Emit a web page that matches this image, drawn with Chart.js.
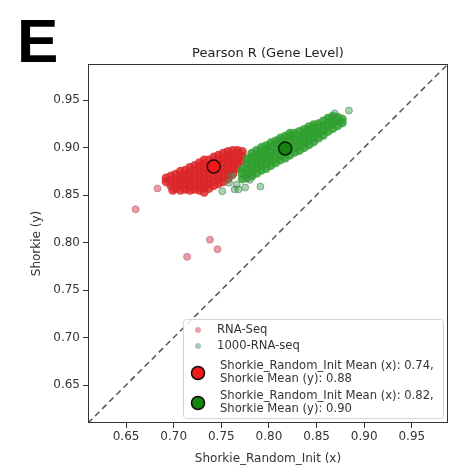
<!DOCTYPE html>
<html>
<head>
<meta charset="utf-8">
<script src="https://cdn.jsdelivr.net/npm/chart.js@4.4.1/dist/chart.umd.min.js"></script>
<style>
    body { margin: 0; background: #fff; }
    #wrap { width: 458px; height: 469px; position: relative; }
</style>
</head>
<body>
<div id="wrap"><canvas id="pearsonChart"></canvas></div>
<script>
const panelLetter = 'E';
const chartTitle = 'Pearson R (Gene Level)';
const xTitle = 'Shorkie_Random_Init (x)';
const yTitle = 'Shorkie (y)';
const seriesNames = ['RNA-Seq', '1000-RNA-seq'];
const axisRange = [0.61, 0.988];
const xTicks = [0.65, 0.70, 0.75, 0.80, 0.85, 0.90, 0.95];
const yTicks = [0.65, 0.70, 0.75, 0.80, 0.85, 0.90, 0.95];

// per-gene correlations (x = random init, y = shorkie)
const rnaSeqPoints = [
    [0.692, 0.864], [0.692, 0.868],
    [0.697, 0.860], [0.697, 0.865], [0.697, 0.870], [0.699, 0.855],
    [0.702, 0.857], [0.702, 0.862], [0.702, 0.867], [0.702, 0.872],
    [0.707, 0.855], [0.707, 0.860], [0.707, 0.865], [0.707, 0.870], [0.707, 0.875],
    [0.712, 0.856], [0.712, 0.861], [0.712, 0.866], [0.712, 0.871], [0.712, 0.876],
    [0.717, 0.855], [0.717, 0.860], [0.717, 0.865], [0.717, 0.870], [0.717, 0.875], [0.717, 0.879],
    [0.722, 0.856], [0.722, 0.861], [0.722, 0.866], [0.722, 0.871], [0.722, 0.876], [0.722, 0.881],
    [0.727, 0.855], [0.727, 0.860], [0.727, 0.865], [0.727, 0.870], [0.727, 0.875], [0.727, 0.880], [0.727, 0.884],
    [0.732, 0.853], [0.732, 0.858], [0.732, 0.863], [0.732, 0.868], [0.732, 0.873], [0.732, 0.878], [0.732, 0.883], [0.732, 0.887],
    [0.737, 0.857], [0.737, 0.862], [0.737, 0.867], [0.737, 0.872], [0.737, 0.877], [0.737, 0.882], [0.737, 0.887],
    [0.742, 0.860], [0.742, 0.865], [0.742, 0.870], [0.742, 0.875], [0.742, 0.880], [0.742, 0.885], [0.742, 0.890],
    [0.747, 0.862], [0.747, 0.867], [0.747, 0.872], [0.747, 0.877], [0.747, 0.882], [0.747, 0.887], [0.747, 0.892],
    [0.752, 0.864], [0.752, 0.869], [0.752, 0.874], [0.752, 0.879], [0.752, 0.884], [0.752, 0.889], [0.752, 0.894],
    [0.757, 0.867], [0.757, 0.872], [0.757, 0.877], [0.757, 0.882], [0.757, 0.887], [0.757, 0.892], [0.757, 0.896],
    [0.762, 0.872], [0.762, 0.877], [0.762, 0.882], [0.762, 0.887], [0.762, 0.892], [0.762, 0.897],
    [0.767, 0.878], [0.767, 0.883], [0.767, 0.888], [0.767, 0.893], [0.767, 0.897],
    [0.772, 0.886], [0.772, 0.891], [0.772, 0.896]
];
const rnaSeqStray = [[0.683, 0.857], [0.660, 0.835], [0.738, 0.803], [0.746, 0.793], [0.714, 0.785]];

const rna1000Points = [
    [0.772, 0.867], [0.772, 0.872], [0.772, 0.877],
    [0.777, 0.868], [0.777, 0.873], [0.777, 0.878], [0.777, 0.883], [0.777, 0.888],
    [0.782, 0.870], [0.782, 0.875], [0.782, 0.880], [0.782, 0.885], [0.782, 0.890], [0.782, 0.894],
    [0.787, 0.873], [0.787, 0.878], [0.787, 0.883], [0.787, 0.888], [0.787, 0.893], [0.787, 0.897],
    [0.792, 0.876], [0.792, 0.881], [0.792, 0.886], [0.792, 0.891], [0.792, 0.896], [0.792, 0.900],
    [0.797, 0.878], [0.797, 0.883], [0.797, 0.888], [0.797, 0.893], [0.797, 0.898], [0.797, 0.902],
    [0.802, 0.881], [0.802, 0.886], [0.802, 0.891], [0.802, 0.896], [0.802, 0.901], [0.802, 0.905],
    [0.807, 0.884], [0.807, 0.889], [0.807, 0.894], [0.807, 0.899], [0.807, 0.904], [0.807, 0.907],
    [0.812, 0.887], [0.812, 0.892], [0.812, 0.897], [0.812, 0.902], [0.812, 0.907], [0.812, 0.910],
    [0.817, 0.889], [0.817, 0.894], [0.817, 0.899], [0.817, 0.904], [0.817, 0.909], [0.817, 0.912],
    [0.822, 0.892], [0.822, 0.897], [0.822, 0.902], [0.822, 0.907], [0.822, 0.912], [0.822, 0.915],
    [0.827, 0.895], [0.827, 0.900], [0.827, 0.905], [0.827, 0.910], [0.827, 0.915],
    [0.832, 0.897], [0.832, 0.902], [0.832, 0.907], [0.832, 0.912], [0.832, 0.917],
    [0.837, 0.900], [0.837, 0.905], [0.837, 0.910], [0.837, 0.915], [0.837, 0.919],
    [0.842, 0.903], [0.842, 0.908], [0.842, 0.913], [0.842, 0.918], [0.842, 0.922],
    [0.847, 0.906], [0.847, 0.911], [0.847, 0.916], [0.847, 0.921], [0.847, 0.924],
    [0.852, 0.910], [0.852, 0.915], [0.852, 0.920], [0.852, 0.925],
    [0.857, 0.913], [0.857, 0.918], [0.857, 0.923], [0.857, 0.928],
    [0.862, 0.917], [0.862, 0.922], [0.862, 0.927], [0.862, 0.931],
    [0.867, 0.920], [0.867, 0.925], [0.867, 0.930], [0.867, 0.933],
    [0.872, 0.923], [0.872, 0.928], [0.872, 0.932],
    [0.877, 0.926], [0.877, 0.930]
];
const rna1000Stray = [
    [0.884, 0.939], [0.869, 0.936], [0.751, 0.854], [0.758, 0.863], [0.764, 0.856],
    [0.768, 0.856], [0.775, 0.858], [0.780, 0.866], [0.761, 0.870], [0.791, 0.859], [0.766, 0.861]
];
const meanX = [0.742, 0.817];
const meanY = [0.880, 0.899];

const redFill = 'rgba(220, 38, 40, 0.85)';
const greenFill = 'rgba(48, 160, 48, 0.85)';
const meanFill = ['#f01a1a', '#13860f'];
const font = 'DejaVu Sans';

function toXY(list) {
    return list.map(p => ({ x: p[0], y: p[1] }));
}

// box, title, panel letter and the matplotlib style legend
const extrasPlugin = {
    id: 'extras',
    afterDatasetsDraw(chart) {
        const ctx = chart.ctx;
        const ca = chart.chartArea;
        ctx.save();
        ctx.strokeStyle = '#333';
        ctx.lineWidth = 1;
        ctx.strokeRect(ca.left + 0.5, ca.top + 0.5, ca.width - 1, ca.height - 1);
        ctx.restore();
    },
    afterDraw(chart) {
        const ctx = chart.ctx;
        const ca = chart.chartArea;
        ctx.save();
        ctx.fillStyle = '#000';
        ctx.font = 'bold 62px "Liberation Sans"';
        ctx.textBaseline = 'alphabetic';
        ctx.textAlign = 'left';
        ctx.fillText(panelLetter, 17, 62);

        ctx.fillStyle = '#222';
        ctx.font = '13px "' + font + '"';
        ctx.textAlign = 'center';
        ctx.fillText(chartTitle, (ca.left + ca.right) / 2, ca.top - 7);

        // legend
        const w = 260, h = 99;
        const x0 = ca.right - 5 - w, y0 = ca.bottom - 5 - h;
        ctx.fillStyle = 'rgba(255,255,255,0.85)';
        ctx.strokeStyle = '#d4d4d4';
        ctx.lineWidth = 1;
        ctx.beginPath();
        ctx.roundRect(x0 + 0.5, y0 + 0.5, w, h, 3);
        ctx.fill();
        ctx.stroke();

        const mx = x0 + 15, tx = x0 + 37;
        ctx.font = '11.6px "' + font + '"';
        ctx.textAlign = 'left';
        ctx.textBaseline = 'middle';
        const small = ['#e9a2ac', '#a9c7b7'];
        seriesNames.forEach((name, i) => {
            const yy = y0 + 11 + i * 16;
            ctx.fillStyle = small[i];
            ctx.beginPath();
            ctx.arc(mx, yy, 3, 0, Math.PI * 2);
            ctx.fill();
            ctx.fillStyle = '#333';
            ctx.fillText(name, tx - 3, yy);
        });
        meanX.forEach((mxv, i) => {
            const yy = y0 + 54 + i * 30;
            ctx.fillStyle = meanFill[i];
            ctx.strokeStyle = '#1a0a0a';
            ctx.lineWidth = 1.5;
            ctx.beginPath();
            ctx.arc(mx, yy, 6.5, 0, Math.PI * 2);
            ctx.fill();
            ctx.stroke();
            ctx.fillStyle = '#333';
            ctx.fillText('Shorkie_Random_Init Mean (x): ' + mxv.toFixed(2) + ',', tx, yy - 7);
            ctx.fillText('Shorkie Mean (y): ' + meanY[i].toFixed(2), tx, yy + 6);
        });
        ctx.restore();
    }
};

const tickFont = { family: font, size: 12 };

new Chart(document.getElementById('pearsonChart'), {
    type: 'scatter',
    data: {
        datasets: [
            {
                label: 'mean RNA-Seq',
                data: [{ x: meanX[0], y: meanY[0] }],
                backgroundColor: meanFill[0],
                borderColor: '#2a0808',
                borderWidth: 1.5,
                pointRadius: 6.5,
                order: 0
            },
            {
                label: 'mean 1000-RNA-seq',
                data: [{ x: meanX[1], y: meanY[1] }],
                backgroundColor: meanFill[1],
                borderColor: '#061a06',
                borderWidth: 1.5,
                pointRadius: 6.5,
                order: 0
            },
            {
                label: seriesNames[1] + ' stray',
                data: toXY(rna1000Stray),
                backgroundColor: 'rgba(60, 160, 70, 0.45)',
                borderColor: 'rgba(70, 120, 95, 0.55)',
                borderWidth: 1,
                pointRadius: 3.5,
                order: 1
            },
            {
                label: seriesNames[1],
                data: toXY(rna1000Points),
                backgroundColor: greenFill,
                borderWidth: 0,
                pointRadius: 4.5,
                order: 1
            },
            {
                label: seriesNames[0] + ' stray',
                data: toXY(rnaSeqStray),
                backgroundColor: 'rgba(214, 60, 75, 0.5)',
                borderColor: 'rgba(170, 80, 110, 0.5)',
                borderWidth: 1,
                pointRadius: 3.5,
                order: 2
            },
            {
                label: seriesNames[0],
                data: toXY(rnaSeqPoints),
                backgroundColor: redFill,
                borderWidth: 0,
                pointRadius: 4.5,
                order: 2
            },
            {
                type: 'line',
                label: 'y = x',
                data: [{ x: axisRange[0], y: axisRange[0] }, { x: axisRange[1], y: axisRange[1] }],
                borderColor: '#555',
                borderWidth: 1.5,
                borderDash: [6, 4],
                pointRadius: 0,
                order: 3
            }
        ]
    },
    options: {
        responsive: true,
        maintainAspectRatio: false,
        animation: false,
        layout: { padding: { left: 20, right: 10, top: 64, bottom: 0 } },
        plugins: {
            legend: { display: false },
            tooltip: { enabled: false }
        },
        scales: {
            x: {
                type: 'linear',
                min: axisRange[0],
                max: axisRange[1],
                afterBuildTicks: s => { s.ticks = xTicks.map(v => ({ value: v })); },
                afterFit: s => { s.height = 46; },
                ticks: { callback: v => v.toFixed(2), font: tickFont, color: '#333', padding: 2, maxRotation: 0, autoSkip: false },
                grid: { display: true, drawOnChartArea: false, drawTicks: true, tickLength: 5, color: '#333' },
                border: { display: false },
                title: { display: true, text: xTitle, font: tickFont, color: '#333', padding: { top: 0, bottom: 3 } }
            },
            y: {
                type: 'linear',
                min: axisRange[0],
                max: axisRange[1],
                afterBuildTicks: s => { s.ticks = yTicks.map(v => ({ value: v })); },
                afterFit: s => { s.width = 68; },
                ticks: { callback: v => v.toFixed(2), font: tickFont, color: '#333', padding: 3, autoSkip: false },
                grid: { display: true, drawOnChartArea: false, drawTicks: true, tickLength: 5, color: '#333' },
                border: { display: false },
                title: { display: true, text: yTitle, font: tickFont, color: '#333', padding: { top: 10, bottom: 0 } }
            }
        }
    },
    plugins: [extrasPlugin]
});
</script>
</body>
</html>
